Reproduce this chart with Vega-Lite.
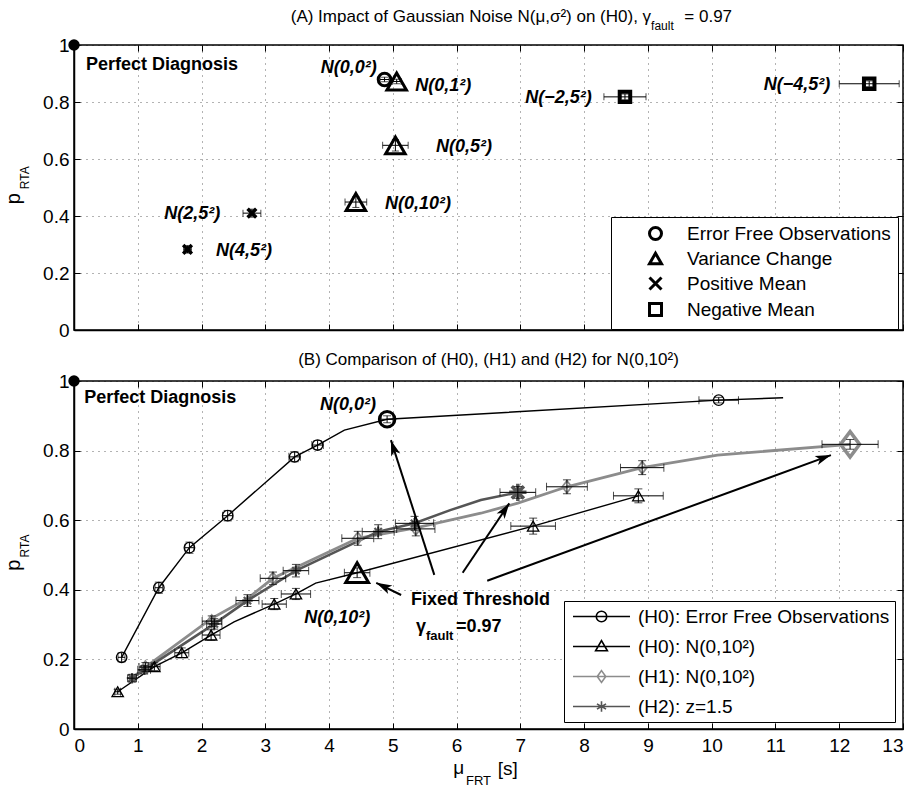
{
  "$schema": "https://vega.github.io/schema/vega-lite/v6.json",
  "background": "white",
  "padding": {"left": 3, "top": 7, "right": 5, "bottom": 5},
  "config": {
    "font": "Liberation Sans",
    "view": {"stroke": "black", "strokeWidth": 1.5},
    "axis": {
      "domainColor": "black", "domainWidth": 1.5,
      "tickColor": "black", "tickSize": -6, "tickWidth": 1,
      "grid": true, "gridColor": "black", "gridDash": [1, 5], "gridOpacity": 0.6, "gridWidth": 1,
      "labelFont": "Liberation Sans", "labelFontSize": 19, "labelColor": "black"
    },
    "axisX": {"labelPadding": 13},
    "axisY": {"labelPadding": 11},
    "legend": {
      "labelFont": "Liberation Sans", "labelFontSize": 19, "labelColor": "black", "labelLimit": 400,
      "strokeColor": "black", "fillColor": "white", "cornerRadius": 0
    }
  },
  "datasets": {
    "markersA": [
      {"type": "Error Free Observations", "x": 4.87, "y": 0.879, "xlo": 4.8, "xhi": 4.94, "ylo": 0.871, "yhi": 0.887},
      {"type": "Variance Change", "x": 5.06, "y": 0.872, "xlo": 4.99, "xhi": 5.13, "ylo": 0.864, "yhi": 0.88},
      {"type": "Variance Change", "x": 5.04, "y": 0.648, "xlo": 4.84, "xhi": 5.24, "ylo": 0.628, "yhi": 0.668},
      {"type": "Variance Change", "x": 4.42, "y": 0.449, "xlo": 4.25, "xhi": 4.59, "ylo": 0.43, "yhi": 0.468},
      {"type": "Positive Mean", "x": 2.79, "y": 0.41, "xlo": 2.65, "xhi": 2.93, "ylo": 0.396, "yhi": 0.424},
      {"type": "Positive Mean", "x": 1.78, "y": 0.283, "xlo": 1.72, "xhi": 1.84, "ylo": 0.27, "yhi": 0.296},
      {"type": "Negative Mean", "x": 8.64, "y": 0.818, "xlo": 8.31, "xhi": 8.97, "ylo": 0.808, "yhi": 0.828},
      {"type": "Negative Mean", "x": 12.47, "y": 0.864, "xlo": 12.0, "xhi": 12.94, "ylo": 0.854, "yhi": 0.874}
    ],
    "annA_right": [
      {"x": 4.747, "y": 0.902, "label": "N(0,0²)"},
      {"x": 2.294, "y": 0.388, "label": "N(2,5²)"},
      {"x": 8.118, "y": 0.798, "label": "N(−2,5²)"},
      {"x": 11.86, "y": 0.841, "label": "N(−4,5²)"}
    ],
    "annA_left": [
      {"x": 5.352, "y": 0.8375, "label": "N(0,1²)"},
      {"x": 5.677, "y": 0.625, "label": "N(0,5²)"},
      {"x": 4.877, "y": 0.4256, "label": "N(0,10²)"},
      {"x": 2.227, "y": 0.26, "label": "N(4,5²)"}
    ],
    "linesB": [
      {"series": "(H0): Error Free Observations", "x": 0.747, "y": 0.206},
      {"series": "(H0): Error Free Observations", "x": 1.33, "y": 0.406},
      {"series": "(H0): Error Free Observations", "x": 1.81, "y": 0.521},
      {"series": "(H0): Error Free Observations", "x": 2.41, "y": 0.613},
      {"series": "(H0): Error Free Observations", "x": 3.46, "y": 0.782},
      {"series": "(H0): Error Free Observations", "x": 3.82, "y": 0.816},
      {"series": "(H0): Error Free Observations", "x": 4.24, "y": 0.859},
      {"series": "(H0): Error Free Observations", "x": 4.91, "y": 0.89},
      {"series": "(H0): Error Free Observations", "x": 10.11, "y": 0.945},
      {"series": "(H0): Error Free Observations", "x": 11.12, "y": 0.952},
      {"series": "(H0): N(0,10²)", "x": 0.685, "y": 0.107},
      {"series": "(H0): N(0,10²)", "x": 1.26, "y": 0.179},
      {"series": "(H0): N(0,10²)", "x": 1.69, "y": 0.219},
      {"series": "(H0): N(0,10²)", "x": 2.15, "y": 0.27},
      {"series": "(H0): N(0,10²)", "x": 2.51, "y": 0.308},
      {"series": "(H0): N(0,10²)", "x": 3.14, "y": 0.359},
      {"series": "(H0): N(0,10²)", "x": 3.48, "y": 0.388},
      {"series": "(H0): N(0,10²)", "x": 3.79, "y": 0.419},
      {"series": "(H0): N(0,10²)", "x": 4.44, "y": 0.449},
      {"series": "(H0): N(0,10²)", "x": 7.2, "y": 0.583},
      {"series": "(H0): N(0,10²)", "x": 8.85, "y": 0.67},
      {"series": "(H1): N(0,10²)", "x": 0.9, "y": 0.145},
      {"series": "(H1): N(0,10²)", "x": 1.12, "y": 0.178},
      {"series": "(H1): N(0,10²)", "x": 2.16, "y": 0.318},
      {"series": "(H1): N(0,10²)", "x": 2.72, "y": 0.375},
      {"series": "(H1): N(0,10²)", "x": 3.12, "y": 0.433},
      {"series": "(H1): N(0,10²)", "x": 4.45, "y": 0.548},
      {"series": "(H1): N(0,10²)", "x": 5.36, "y": 0.578},
      {"series": "(H1): N(0,10²)", "x": 6.38, "y": 0.62},
      {"series": "(H1): N(0,10²)", "x": 6.96, "y": 0.649},
      {"series": "(H1): N(0,10²)", "x": 7.73, "y": 0.696},
      {"series": "(H1): N(0,10²)", "x": 8.91, "y": 0.751},
      {"series": "(H1): N(0,10²)", "x": 10.09, "y": 0.787},
      {"series": "(H1): N(0,10²)", "x": 12.17, "y": 0.818},
      {"series": "(H2): z=1.5", "x": 0.91, "y": 0.146},
      {"series": "(H2): z=1.5", "x": 1.1, "y": 0.17},
      {"series": "(H2): z=1.5", "x": 2.2, "y": 0.302},
      {"series": "(H2): z=1.5", "x": 2.72, "y": 0.369},
      {"series": "(H2): z=1.5", "x": 3.48, "y": 0.455},
      {"series": "(H2): z=1.5", "x": 4.77, "y": 0.567},
      {"series": "(H2): z=1.5", "x": 5.34, "y": 0.591},
      {"series": "(H2): z=1.5", "x": 5.9, "y": 0.629},
      {"series": "(H2): z=1.5", "x": 6.38, "y": 0.658},
      {"series": "(H2): z=1.5", "x": 6.96, "y": 0.68}
    ],
    "markersB": [
      {"series": "(H0): Error Free Observations", "x": 0.747, "y": 0.206, "xlo": 0.69, "xhi": 0.8, "ylo": 0.193, "yhi": 0.219},
      {"series": "(H0): Error Free Observations", "x": 1.33, "y": 0.406, "xlo": 1.27, "xhi": 1.39, "ylo": 0.39, "yhi": 0.422},
      {"series": "(H0): Error Free Observations", "x": 1.81, "y": 0.521, "xlo": 1.74, "xhi": 1.88, "ylo": 0.505, "yhi": 0.537},
      {"series": "(H0): Error Free Observations", "x": 2.41, "y": 0.613, "xlo": 2.33, "xhi": 2.49, "ylo": 0.598, "yhi": 0.628},
      {"series": "(H0): Error Free Observations", "x": 3.46, "y": 0.782, "xlo": 3.37, "xhi": 3.55, "ylo": 0.768, "yhi": 0.796},
      {"series": "(H0): Error Free Observations", "x": 3.82, "y": 0.816, "xlo": 3.73, "xhi": 3.91, "ylo": 0.803, "yhi": 0.829},
      {"series": "(H0): Error Free Observations", "x": 10.11, "y": 0.945, "xlo": 9.8, "xhi": 10.42, "ylo": 0.937, "yhi": 0.953},
      {"series": "(H0): N(0,10²)", "x": 0.685, "y": 0.107, "xlo": 0.64, "xhi": 0.73, "ylo": 0.1, "yhi": 0.114},
      {"series": "(H0): N(0,10²)", "x": 1.26, "y": 0.179, "xlo": 1.17, "xhi": 1.35, "ylo": 0.168, "yhi": 0.19},
      {"series": "(H0): N(0,10²)", "x": 1.69, "y": 0.219, "xlo": 1.58, "xhi": 1.8, "ylo": 0.205, "yhi": 0.233},
      {"series": "(H0): N(0,10²)", "x": 2.15, "y": 0.27, "xlo": 2.01, "xhi": 2.29, "ylo": 0.255, "yhi": 0.285},
      {"series": "(H0): N(0,10²)", "x": 3.14, "y": 0.359, "xlo": 2.95, "xhi": 3.33, "ylo": 0.343, "yhi": 0.375},
      {"series": "(H0): N(0,10²)", "x": 3.48, "y": 0.388, "xlo": 3.25, "xhi": 3.71, "ylo": 0.372, "yhi": 0.404},
      {"series": "(H0): N(0,10²)", "x": 7.2, "y": 0.583, "xlo": 6.85, "xhi": 7.55, "ylo": 0.56, "yhi": 0.606},
      {"series": "(H0): N(0,10²)", "x": 8.85, "y": 0.67, "xlo": 8.46, "xhi": 9.24, "ylo": 0.65, "yhi": 0.69},
      {"series": "(H1): N(0,10²)", "x": 1.12, "y": 0.178, "xlo": 1.02, "xhi": 1.22, "ylo": 0.165, "yhi": 0.191},
      {"series": "(H1): N(0,10²)", "x": 2.16, "y": 0.31, "xlo": 2.01, "xhi": 2.31, "ylo": 0.295, "yhi": 0.325},
      {"series": "(H1): N(0,10²)", "x": 3.12, "y": 0.433, "xlo": 2.92, "xhi": 3.32, "ylo": 0.415, "yhi": 0.451},
      {"series": "(H1): N(0,10²)", "x": 4.45, "y": 0.548, "xlo": 4.2, "xhi": 4.7, "ylo": 0.528, "yhi": 0.568},
      {"series": "(H1): N(0,10²)", "x": 5.36, "y": 0.575, "xlo": 5.06, "xhi": 5.66, "ylo": 0.555, "yhi": 0.595},
      {"series": "(H1): N(0,10²)", "x": 7.73, "y": 0.696, "xlo": 7.41, "xhi": 8.05, "ylo": 0.676, "yhi": 0.716},
      {"series": "(H1): N(0,10²)", "x": 8.91, "y": 0.751, "xlo": 8.57, "xhi": 9.25, "ylo": 0.731, "yhi": 0.771},
      {"series": "(H2): z=1.5", "x": 0.91, "y": 0.146, "xlo": 0.84, "xhi": 0.98, "ylo": 0.135, "yhi": 0.157},
      {"series": "(H2): z=1.5", "x": 1.1, "y": 0.17, "xlo": 1.0, "xhi": 1.2, "ylo": 0.158, "yhi": 0.182},
      {"series": "(H2): z=1.5", "x": 2.2, "y": 0.302, "xlo": 2.08, "xhi": 2.32, "ylo": 0.287, "yhi": 0.317},
      {"series": "(H2): z=1.5", "x": 2.72, "y": 0.369, "xlo": 2.54, "xhi": 2.9, "ylo": 0.352, "yhi": 0.386},
      {"series": "(H2): z=1.5", "x": 3.48, "y": 0.455, "xlo": 3.28, "xhi": 3.68, "ylo": 0.437, "yhi": 0.473},
      {"series": "(H2): z=1.5", "x": 4.77, "y": 0.567, "xlo": 4.52, "xhi": 5.02, "ylo": 0.547, "yhi": 0.587},
      {"series": "(H2): z=1.5", "x": 5.34, "y": 0.591, "xlo": 5.04, "xhi": 5.64, "ylo": 0.571, "yhi": 0.611}
    ],
    "fixedB": [
      {"series": "(H0): Error Free Observations", "x": 4.91, "y": 0.89, "xlo": 4.82, "xhi": 5.0, "ylo": 0.88, "yhi": 0.9},
      {"series": "(H0): N(0,10²)", "x": 4.44, "y": 0.449, "xlo": 4.24, "xhi": 4.64, "ylo": 0.435, "yhi": 0.463},
      {"series": "(H1): N(0,10²)", "x": 12.17, "y": 0.818, "xlo": 11.73, "xhi": 12.61, "ylo": 0.804, "yhi": 0.832},
      {"series": "(H2): z=1.5", "x": 6.96, "y": 0.68, "xlo": 6.68, "xhi": 7.24, "ylo": 0.663, "yhi": 0.697}
    ],
    "arrowsB": [
      {"x0": 5.65, "y0": 0.443, "x1": 4.97, "y1": 0.83},
      {"x0": 5.13, "y0": 0.385, "x1": 4.74, "y1": 0.42},
      {"x0": 6.095, "y0": 0.449, "x1": 6.826, "y1": 0.6485},
      {"x0": 6.48, "y0": 0.426, "x1": 11.87, "y1": 0.787}
    ],
    "annB_left": [
      {"x": 3.611, "y": 0.304, "label": "N(0,10²)"}
    ],
    "annB_right": [
      {"x": 4.736, "y": 0.917, "label": "N(0,0²)"}
    ],
    "frameTicks": [
      {"x": 0, "y": 0}
    ]
  },
  "spacing": 9,
  "resolve": {"scale": {"shape": "independent", "color": "independent", "size": "independent", "strokeWidth": "independent"}},
  "vconcat": [
    {
      "width": 829,
      "height": 285,
      "resolve": {"axis": {"x": "independent", "y": "independent"}},
      "layer": [
        {
          "layer": [
            {
              "data": {"name": "markersA"},
              "mark": {"type": "point", "filled": false, "color": "black", "opacity": 1},
              "encoding": {
                "x": {"field": "x", "type": "quantitative", "title": null, "scale": {"domain": [0, 13], "nice": false, "zero": false},
                      "axis": {"values": [0,1,2,3,4,5,6,7,8,9,10,11,12,13], "labels": false}},
                "y": {"field": "y", "type": "quantitative", "title": null, "scale": {"domain": [0, 1], "nice": false, "zero": false},
                      "axis": {"values": [0, 0.2, 0.4, 0.6, 0.8, 1], "format": "~g"}},
                "shape": {"field": "type", "type": "nominal",
                          "scale": {"domain": ["Error Free Observations", "Variance Change", "Positive Mean", "Negative Mean"],
                                    "range": ["circle", "triangle-up", "M-1,-1L1,1M-1,1L1,-1", "square"]},
                          "legend": {"title": null, "orient": "none", "legendX": 537, "legendY": 172, "padding": 7,
                                     "symbolOffset": 28, "labelOffset": 22, "rowPadding": 1, "symbolSize": 144,
                                     "symbolStrokeWidth": 3, "symbolStrokeColor": "black", "symbolFillColor": "transparent"}},
                "size": {"field": "type", "type": "nominal",
                         "scale": {"type": "ordinal", "domain": ["Negative Mean", "Positive Mean", "Variance Change", "Error Free Observations"], "range": [110, 75, 380, 160]},
                         "legend": null},
                "strokeWidth": {"field": "type", "type": "nominal",
                         "scale": {"type": "ordinal", "domain": ["Positive Mean", "Negative Mean", "Error Free Observations", "Variance Change"], "range": [3.5, 4, 3, 3]},
                         "legend": null}
              }
            },
            {
              "data": {"name": "markersA"},
              "mark": {"type": "errorbar", "ticks": true, "color": "black", "thickness": 1, "size": 7},
              "encoding": {
                "x": {"field": "xlo", "type": "quantitative", "title": null},
                "x2": {"field": "xhi"},
                "y": {"field": "y", "type": "quantitative", "title": null}
              }
            },
            {
              "data": {"name": "markersA"},
              "mark": {"type": "errorbar", "ticks": true, "color": "black", "thickness": 1, "size": 7},
              "encoding": {
                "y": {"field": "ylo", "type": "quantitative", "title": null},
                "y2": {"field": "yhi"},
                "x": {"field": "x", "type": "quantitative", "title": null}
              }
            },
            {
              "data": {"values": [{"x": 0, "y": 1}]},
              "mark": {"type": "point", "filled": true, "color": "black", "size": 130, "opacity": 1},
              "encoding": {
                "x": {"field": "x", "type": "quantitative", "title": null},
                "y": {"field": "y", "type": "quantitative", "title": null}
              }
            },
            {
              "data": {"name": "annA_right"},
              "mark": {"type": "text", "align": "right", "baseline": "alphabetic", "fontSize": 18, "fontWeight": "bold", "fontStyle": "italic", "color": "black"},
              "encoding": {
                "x": {"field": "x", "type": "quantitative", "title": null},
                "y": {"field": "y", "type": "quantitative", "title": null},
                "text": {"field": "label"}
              }
            },
            {
              "data": {"name": "annA_left"},
              "mark": {"type": "text", "align": "left", "baseline": "alphabetic", "fontSize": 18, "fontWeight": "bold", "fontStyle": "italic", "color": "black"},
              "encoding": {
                "x": {"field": "x", "type": "quantitative", "title": null},
                "y": {"field": "y", "type": "quantitative", "title": null},
                "text": {"field": "label"}
              }
            },
            {
              "data": {"values": [{"x": 0.188, "y": 0.913, "label": "Perfect Diagnosis"}]},
              "mark": {"type": "text", "align": "left", "baseline": "alphabetic", "fontSize": 18, "fontWeight": "bold", "color": "black"},
              "encoding": {
                "x": {"field": "x", "type": "quantitative", "title": null},
                "y": {"field": "y", "type": "quantitative", "title": null},
                "text": {"field": "label"}
              }
            },
            {
              "data": {"values": [{}]},
              "mark": {"type": "text", "align": "right", "baseline": "alphabetic", "fontSize": 17, "color": "black", "text": "(A) Impact of Gaussian Noise N(μ,σ²) on (H0), γ"},
              "encoding": {"x": {"datum": 9.05, "type": "quantitative"}, "y": {"datum": 1.079, "type": "quantitative"}}
            },
            {
              "data": {"values": [{}]},
              "mark": {"type": "text", "align": "left", "baseline": "alphabetic", "fontSize": 12, "color": "black", "text": "fault"},
              "encoding": {"x": {"datum": 9.05, "type": "quantitative"}, "y": {"datum": 1.0516, "type": "quantitative"}}
            },
            {
              "data": {"values": [{}]},
              "mark": {"type": "text", "align": "left", "baseline": "alphabetic", "fontSize": 17, "color": "black", "text": "= 0.97"},
              "encoding": {"x": {"datum": 9.571, "type": "quantitative"}, "y": {"datum": 1.079, "type": "quantitative"}}
            },
            {
              "data": {"values": [{}]},
              "mark": {"type": "text", "align": "center", "baseline": "alphabetic", "angle": 270, "fontSize": 20, "color": "black", "text": "p"},
              "encoding": {"x": {"datum": -0.842, "type": "quantitative"}, "y": {"datum": 0.461, "type": "quantitative"}}
            },
            {
              "data": {"values": [{}]},
              "mark": {"type": "text", "align": "center", "baseline": "alphabetic", "angle": 270, "fontSize": 12, "color": "black", "text": "RTA"},
              "encoding": {"x": {"datum": -0.701, "type": "quantitative"}, "y": {"datum": 0.534, "type": "quantitative"}}
            }
          ]
        },
        {
          "data": {"name": "frameTicks"},
          "mark": {"type": "point", "opacity": 0},
          "encoding": {
            "x": {"field": "x", "type": "quantitative", "title": null,
                  "axis": {"orient": "top", "values": [0,1,2,3,4,5,6,7,8,9,10,11,12,13], "labels": false, "grid": false, "domain": false}},
            "y": {"field": "y", "type": "quantitative", "title": null,
                  "axis": {"orient": "right", "values": [0, 0.2, 0.4, 0.6, 0.8, 1], "labels": false, "grid": false, "domain": false}}
          }
        }
      ]
    },
    {
      "width": 829,
      "height": 348,
      "title": {"text": "(B) Comparison of (H0), (H1) and (H2) for N(0,10²)", "fontSize": 17, "fontWeight": "normal", "color": "black", "offset": 3, "anchor": "middle", "frame": "group"},
      "resolve": {"axis": {"x": "independent", "y": "independent"}},
      "layer": [
        {
          "resolve": {"scale": {"size": "independent", "strokeWidth": "independent"}},
          "layer": [
            {
              "data": {"name": "linesB"},
              "mark": {"type": "line", "interpolate": "linear"},
              "encoding": {
                "x": {"field": "x", "type": "quantitative", "title": null, "scale": {"domain": [0, 13], "nice": false, "zero": false},
                      "axis": {"values": [0,1,2,3,4,5,6,7,8,9,10,11,12,13], "format": "~g"}},
                "y": {"field": "y", "type": "quantitative", "title": null, "scale": {"domain": [0, 1], "nice": false, "zero": false},
                      "axis": {"values": [0, 0.2, 0.4, 0.6, 0.8, 1], "format": "~g"}},
                "color": {"field": "series", "type": "nominal",
                          "scale": {"domain": ["(H0): Error Free Observations", "(H0): N(0,10²)", "(H1): N(0,10²)", "(H2): z=1.5"],
                                    "range": ["#000000", "#000000", "#8c8c8c", "#555555"]},
                          "legend": {"title": null, "orient": "none", "legendX": 490, "legendY": 220, "padding": 5,
                                     "symbolOffset": 22, "labelOffset": 26, "rowPadding": 9, "symbolSize": 361,
                                     "encode": {"symbols": {"update": {
                                       "shape": {"signal": "datum.value === '(H0): Error Free Observations' ? 'M-3,0L3,0M0.55,0A0.55,0.55,0,1,1,-0.55,0A0.55,0.55,0,1,1,0.55,0' : datum.value === '(H0): N(0,10²)' ? 'M-3,0L3,0M0,-0.62L0.62,0.45L-0.62,0.45Z' : datum.value === '(H1): N(0,10²)' ? 'M-3,0L3,0M0,-0.62L0.45,0L0,0.62L-0.45,0Z' : 'M-3,0L3,0M0,-0.55L0,0.55M-0.48,-0.28L0.48,0.28M-0.48,0.28L0.48,-0.28'"},
                                       "strokeWidth": {"value": 1.6},
                                       "fill": {"value": "transparent"},
                                       "size": {"value": 361}
                                     }}}}},
                "strokeWidth": {"field": "series", "type": "nominal",
                         "scale": {"type": "ordinal", "domain": ["(H2): z=1.5", "(H1): N(0,10²)", "(H0): N(0,10²)", "(H0): Error Free Observations"], "range": [2.6, 2.8, 1.4, 1.4]},
                         "legend": null}
              }
            },
            {
              "data": {"name": "markersB"},
              "mark": {"type": "point", "filled": false, "opacity": 1},
              "encoding": {
                "x": {"field": "x", "type": "quantitative", "title": null},
                "y": {"field": "y", "type": "quantitative", "title": null},
                "color": {"field": "series", "type": "nominal"},
                "shape": {"field": "series", "type": "nominal",
                          "scale": {"domain": ["(H2): z=1.5", "(H1): N(0,10²)", "(H0): N(0,10²)", "(H0): Error Free Observations"],
                                    "range": ["M0,-1L0,1M-1,0L1,0M-0.7,-0.7L0.7,0.7M-0.7,0.7L0.7,-0.7", "M0,-1L0.75,0L0,1L-0.75,0Z", "triangle-up", "circle"]},
                          "legend": null},
                "size": {"field": "series", "type": "nominal",
                         "scale": {"type": "ordinal", "domain": ["(H1): N(0,10²)", "(H2): z=1.5", "(H0): Error Free Observations", "(H0): N(0,10²)"], "range": [150, 110, 110, 130]},
                         "legend": null},
                "strokeWidth": {"field": "series", "type": "nominal",
                         "scale": {"type": "ordinal", "domain": ["(H1): N(0,10²)", "(H2): z=1.5", "(H0): Error Free Observations", "(H0): N(0,10²)"], "range": [1.8, 2.2, 1.3, 1.3]},
                         "legend": null}
              }
            },
            {
              "data": {"name": "fixedB"},
              "mark": {"type": "point", "filled": false, "opacity": 1},
              "encoding": {
                "x": {"field": "x", "type": "quantitative", "title": null},
                "y": {"field": "y", "type": "quantitative", "title": null},
                "color": {"field": "series", "type": "nominal"},
                "shape": {"field": "series", "type": "nominal", "legend": null},
                "size": {"field": "series", "type": "nominal",
                         "scale": {"type": "ordinal", "domain": ["(H1): N(0,10²)", "(H2): z=1.5", "(H0): Error Free Observations", "(H0): N(0,10²)"], "range": [650, 300, 240, 520]},
                         "legend": null},
                "strokeWidth": {"field": "series", "type": "nominal",
                         "scale": {"type": "ordinal", "domain": ["(H1): N(0,10²)", "(H2): z=1.5", "(H0): Error Free Observations", "(H0): N(0,10²)"], "range": [3.5, 3.5, 3, 3]},
                         "legend": null}
              }
            },
            {
              "data": {"name": "markersB"},
              "mark": {"type": "errorbar", "ticks": true, "color": "black", "thickness": 1, "size": 8},
              "encoding": {
                "x": {"field": "xlo", "type": "quantitative", "title": null},
                "x2": {"field": "xhi"},
                "y": {"field": "y", "type": "quantitative", "title": null}
              }
            },
            {
              "data": {"name": "markersB"},
              "mark": {"type": "errorbar", "ticks": true, "color": "black", "thickness": 1, "size": 8},
              "encoding": {
                "y": {"field": "ylo", "type": "quantitative", "title": null},
                "y2": {"field": "yhi"},
                "x": {"field": "x", "type": "quantitative", "title": null}
              }
            },
            {
              "data": {"name": "fixedB"},
              "mark": {"type": "errorbar", "ticks": true, "color": "black", "thickness": 1, "size": 8},
              "encoding": {
                "x": {"field": "xlo", "type": "quantitative", "title": null},
                "x2": {"field": "xhi"},
                "y": {"field": "y", "type": "quantitative", "title": null}
              }
            },
            {
              "data": {"name": "fixedB"},
              "mark": {"type": "errorbar", "ticks": true, "color": "black", "thickness": 1, "size": 8},
              "encoding": {
                "y": {"field": "ylo", "type": "quantitative", "title": null},
                "y2": {"field": "yhi"},
                "x": {"field": "x", "type": "quantitative", "title": null}
              }
            },
            {
              "data": {"name": "arrowsB"},
              "mark": {"type": "rule", "color": "black", "strokeWidth": 2},
              "encoding": {
                "x": {"field": "x0", "type": "quantitative", "title": null},
                "y": {"field": "y0", "type": "quantitative", "title": null},
                "x2": {"field": "x1"},
                "y2": {"field": "y1"}
              }
            },
            {
              "data": {"name": "arrowsB"},
              "transform": [{"calculate": "atan2((datum.x1 - datum.x0) * 63.77, (datum.y1 - datum.y0) * 348) * 180 / PI", "as": "heading"}],
              "mark": {"type": "point", "filled": true, "color": "black", "opacity": 1, "size": 300, "shape": "M0,0L0.55,1.8L0,1.35L-0.55,1.8Z"},
              "encoding": {
                "x": {"field": "x1", "type": "quantitative", "title": null},
                "y": {"field": "y1", "type": "quantitative", "title": null},
                "angle": {"field": "heading", "type": "quantitative", "scale": null}
              }
            },
            {
              "data": {"values": [{"x": 0, "y": 1}]},
              "mark": {"type": "point", "filled": true, "color": "black", "size": 130, "opacity": 1},
              "encoding": {
                "x": {"field": "x", "type": "quantitative", "title": null},
                "y": {"field": "y", "type": "quantitative", "title": null}
              }
            },
            {
              "data": {"name": "annB_right"},
              "mark": {"type": "text", "align": "right", "baseline": "alphabetic", "fontSize": 18, "fontWeight": "bold", "fontStyle": "italic", "color": "black"},
              "encoding": {
                "x": {"field": "x", "type": "quantitative", "title": null},
                "y": {"field": "y", "type": "quantitative", "title": null},
                "text": {"field": "label"}
              }
            },
            {
              "data": {"name": "annB_left"},
              "mark": {"type": "text", "align": "left", "baseline": "alphabetic", "fontSize": 18, "fontWeight": "bold", "fontStyle": "italic", "color": "black"},
              "encoding": {
                "x": {"field": "x", "type": "quantitative", "title": null},
                "y": {"field": "y", "type": "quantitative", "title": null},
                "text": {"field": "label"}
              }
            },
            {
              "data": {"values": [{"x": 0.162, "y": 0.938, "label": "Perfect Diagnosis"}, {"x": 5.285, "y": 0.356, "label": "Fixed Threshold"}, {"x": 5.363, "y": 0.28, "label": "γ"}, {"x": 5.99, "y": 0.28, "label": "=0.97"}]},
              "mark": {"type": "text", "align": "left", "baseline": "alphabetic", "fontSize": 18, "fontWeight": "bold", "color": "black"},
              "encoding": {
                "x": {"field": "x", "type": "quantitative", "title": null},
                "y": {"field": "y", "type": "quantitative", "title": null},
                "text": {"field": "label"}
              }
            },
            {
              "data": {"values": [{"x": 5.52, "y": 0.256, "label": "fault"}]},
              "mark": {"type": "text", "align": "left", "baseline": "alphabetic", "fontSize": 13, "fontWeight": "bold", "color": "black"},
              "encoding": {
                "x": {"field": "x", "type": "quantitative", "title": null},
                "y": {"field": "y", "type": "quantitative", "title": null},
                "text": {"field": "label"}
              }
            },
            {
              "data": {"values": [{}]},
              "mark": {"type": "text", "align": "center", "baseline": "alphabetic", "angle": 270, "fontSize": 20, "color": "black", "text": "p"},
              "encoding": {"x": {"datum": -0.842, "type": "quantitative"}, "y": {"datum": 0.471, "type": "quantitative"}}
            },
            {
              "data": {"values": [{}]},
              "mark": {"type": "text", "align": "center", "baseline": "alphabetic", "angle": 270, "fontSize": 12, "color": "black", "text": "RTA"},
              "encoding": {"x": {"datum": -0.701, "type": "quantitative"}, "y": {"datum": 0.526, "type": "quantitative"}}
            },
            {
              "data": {"values": [{}]},
              "mark": {"type": "text", "align": "right", "baseline": "alphabetic", "fontSize": 19, "color": "black", "text": "μ"},
              "encoding": {"x": {"datum": 6.12, "type": "quantitative"}, "y": {"datum": -0.129, "type": "quantitative"}}
            },
            {
              "data": {"values": [{}]},
              "mark": {"type": "text", "align": "left", "baseline": "alphabetic", "fontSize": 13, "color": "black", "text": "FRT"},
              "encoding": {"x": {"datum": 6.147, "type": "quantitative"}, "y": {"datum": -0.161, "type": "quantitative"}}
            },
            {
              "data": {"values": [{}]},
              "mark": {"type": "text", "align": "left", "baseline": "alphabetic", "fontSize": 19, "color": "black", "text": "[s]"},
              "encoding": {"x": {"datum": 6.644, "type": "quantitative"}, "y": {"datum": -0.132, "type": "quantitative"}}
            }
          ]
        },
        {
          "data": {"name": "frameTicks"},
          "mark": {"type": "point", "opacity": 0},
          "encoding": {
            "x": {"field": "x", "type": "quantitative", "title": null,
                  "axis": {"orient": "top", "values": [0,1,2,3,4,5,6,7,8,9,10,11,12,13], "labels": false, "grid": false, "domain": false}},
            "y": {"field": "y", "type": "quantitative", "title": null,
                  "axis": {"orient": "right", "values": [0, 0.2, 0.4, 0.6, 0.8, 1], "labels": false, "grid": false, "domain": false}}
          }
        }
      ]
    }
  ]
}
